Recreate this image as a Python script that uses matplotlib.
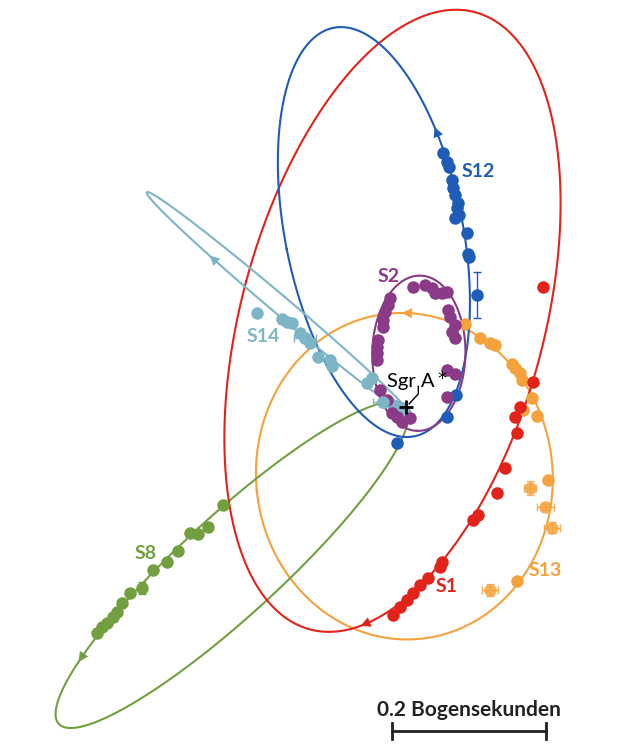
import numpy as np
import matplotlib.pyplot as plt
from matplotlib.patches import FancyArrowPatch

plt.rcParams['font.family'] = ['Lato', 'DejaVu Sans']

# All positions are offsets from Sgr A* in milliarcseconds (x right, y up)

# points
s12_orbit_x = [-90, -116, -138, -160, -165, -155, -112, -69, -30, 9, 40, 70, 79, 74, 27, -36]
s12_orbit_y = [495, 486, 455, 399, 334, 204, 74, -4, -26, -36, -21, 22, 113, 252, 382, 472]
s1_orbit_x = [53, 9, -38, -108, -142, -205, -229, -233, -207, -186, -138, -90, -34, 31, 96, 157, 187, 198, 191, 174, 139, 87]
s1_orbit_y = [512, 499, 473, 386, 334, 182, 74, -82, -199, -242, -280, -293, -286, -216, -121, 9, 122, 269, 377, 442, 486, 510]
s13_orbit_x = [5, 77, 139, 164, 178, 185, 178, 157, 96, 1, -73, -129, -164, -200, -187, -160, -108, -38]
s13_orbit_y = [122, 109, 57, 13, -47, -121, -173, -234, -268, -300, -286, -247, -199, -104, -26, 31, 87, 117]
s2_orbit_x = [31, 60, 70, 73, 64, 44, 18, -1, -27, -39, -42, -34, -14, 8]
s2_orbit_y = [166, 152, 113, 48, 3, -20, -30, -27, -4, 35, 87, 133, 155, 165]
s14_orbit_x = [-326, -303, -285, -205, -138, -38, 5, 16, 8, -25, -138, -212, -251, -281, -316]
s14_orbit_y = [269, 260, 250, 181, 121, 35, -1, -12, -14, 9, 99, 155, 194, 220, 254]
s8_orbit_x = [-456, -450, -441, -421, -402, -363, -329, -281, -238, -181, -129, -51, -8, 12, 21, 5, -21, -69, -155, -186, -316, -385, -433]
s8_orbit_y = [-410, -385, -359, -329, -294, -247, -212, -166, -127, -90, -55, 0, 18, 18, 5, -26, -56, -108, -225, -264, -364, -397, -416]

# measured positions
s12_x = [48, 53, 56, 60, 61, 64, 68, 66, 69, 64, 79, 81, 82, 65, 53, -12]
s12_y = [330, 319, 312, 295, 285, 276, 265, 259, 250, 246, 226, 199, 195, 16, -13, -47]
s12_err_x, s12_err_y, s12_err_dy = [92], [146], [30]

s1_x = [178, 165, 148, 142, 144, 129, 118, 94, 87, 47, 44, 29, 18, 9, 1, -8, -17]
s1_y = [156, 33, 0, -13, -34, -79, -112, -140, -147, -202, -208, -222, -231, -242, -251, -260, -270]

s13_x = [77, 96, 109, 116, 138, 142, 148, 151, 164, 152, 170, 185, 144]
s13_y = [108, 90, 83, 81, 56, 51, 44, 35, 12, -4, -12, -95, -226]
s13_err_x = [161, 181, 190, 109]
s13_err_y = [-105, -130, -157, -238]
s13_err_dx = [8, 11, 10, 10]
s13_err_dy = [9, 4, 7, 8]

s2_x = [9, 25, 34, 38, 47, 55, 57, 64, 60, 64, -21, -23, -27, -30, -30, -36, -38, -38, -38,
        -34, -25, -18, -12, -5, 5, 53, 64, 53]
s2_y = [156, 159, 155, 148, 148, 126, 117, 107, 98, 90, 142, 133, 124, 113, 104, 87, 78, 70, 61,
        22, 9, -8, -13, -20, -14, 48, 43, 13]
s2_err_x, s2_err_y, s2_err_dx = [53], [150], [6]

s14_x = [-194, -161, -155, -148, -138, -131, -125, -114, -99, -96, -51, -44, -30, -17, -5, -1]
s14_y = [122, 114, 111, 109, 96, 90, 83, 65, 61, 53, 31, 38, 7, 3, -1, -8]
s14_err_x, s14_err_y, s14_err_dx = [-131, -30], [90, 7], [14, 13]

s8_x = [-238, -257, -270, -281, -296, -311, -329, -359, -369, -376, -381, -389, -395, -402]
s8_y = [-127, -156, -165, -164, -187, -202, -212, -242, -255, -267, -273, -281, -286, -294]
s8_err_x, s8_err_y, s8_err_dy = [-343], [-235], [8]

BLUE = '#1f5cb8'
RED = '#e2231a'
ORANGE = '#f5a23c'
PURPLE = '#8b3a87'
LIGHTBLUE = '#7db5c6'
GREEN = '#72a040'
DOT = 9


def fit_ellipse(x, y, n=720):
    # direct least squares ellipse fit (Fitzgibbon)
    x = np.asarray(x, float)
    y = np.asarray(y, float)
    D1 = np.column_stack([x * x, x * y, y * y])
    D2 = np.column_stack([x, y, np.ones_like(x)])
    S1 = D1.T @ D1
    S2 = D1.T @ D2
    S3 = D2.T @ D2
    T = -np.linalg.solve(S3, S2.T)
    M = S1 + S2 @ T
    M = np.array([M[2] / 2, -M[1], M[0] / 2])
    w, v = np.linalg.eig(M)
    v = np.real(v)
    cond = 4 * v[0] * v[2] - v[1] ** 2
    a1 = v[:, cond > 0][:, 0]
    a, b, c, d, e, f = np.concatenate([a1, T @ a1])
    Q = np.array([[a, b / 2], [b / 2, c]])
    x0, y0 = np.linalg.solve(2 * Q, [-d, -e])
    F0 = a * x0 ** 2 + b * x0 * y0 + c * y0 ** 2 + d * x0 + e * y0 + f
    lam, vec = np.linalg.eigh(Q)
    axes = np.sqrt(-F0 / lam)
    t = np.linspace(0, 2 * np.pi, n, endpoint=False)
    pts = vec @ (axes[:, None] * np.array([np.cos(t), np.sin(t)]))
    return x0 + pts[0], y0 + pts[1]


def draw_orbit(ax, tx, ty, color, arrow_at=None, heading=None):
    ox, oy = fit_ellipse(tx, ty)
    ax.plot(np.append(ox, ox[0]), np.append(oy, oy[0]), color=color, lw=1.5, zorder=1)
    if arrow_at is not None:
        n = len(ox)
        i = np.argmin(np.hypot(ox - arrow_at[0], oy - arrow_at[1]))
        j, k = (i - 3) % n, (i + 3) % n
        if (ox[k] - ox[j]) * heading[0] + (oy[k] - oy[j]) * heading[1] < 0:
            j, k = k, j
        ax.add_patch(FancyArrowPatch((ox[j], oy[j]), (ox[k], oy[k]),
                                     arrowstyle='-|>,head_length=0.6,head_width=0.3',
                                     mutation_scale=12, color=color, lw=0,
                                     shrinkA=0, shrinkB=0, zorder=2))


def draw_points(ax, x, y, color):
    ax.plot(x, y, 'o', ms=DOT, color=color, mec='none', zorder=3)


fig = plt.figure(figsize=(6.19, 7.51), dpi=100)
ax = fig.add_axes([0, 0, 1, 1])
ax.set_xlim(-527.8, 276.9)
ax.set_ylim(-447.2, 529.1)
ax.axis('off')

draw_orbit(ax, s13_orbit_x, s13_orbit_y, ORANGE, (-1, 122), (-1, 0))
draw_orbit(ax, s8_orbit_x, s8_orbit_y, GREEN, (-421, -329), (-0.5, -1))
draw_orbit(ax, s1_orbit_x, s1_orbit_y, RED, (-51, -286), (-1, 0))
draw_orbit(ax, s12_orbit_x, s12_orbit_y, BLUE, (35, 356), (-0.3, 1))
draw_orbit(ax, s14_orbit_x, s14_orbit_y, LIGHTBLUE, (-251, 194), (-1, 0.8))
draw_orbit(ax, s2_orbit_x, s2_orbit_y, PURPLE)

err_kw = dict(fmt='o', ms=DOT, mec='none', elinewidth=1, capsize=3, capthick=1, zorder=3)
draw_points(ax, s8_x, s8_y, GREEN)
ax.errorbar(s8_err_x, s8_err_y, yerr=s8_err_dy, color=GREEN, **err_kw)
draw_points(ax, s13_x, s13_y, ORANGE)
ax.errorbar(s13_err_x, s13_err_y, xerr=s13_err_dx, yerr=s13_err_dy, color=ORANGE, alpha=0.85, **err_kw)
draw_points(ax, s1_x, s1_y, RED)
draw_points(ax, s12_x, s12_y, BLUE)
ax.errorbar(s12_err_x, s12_err_y, yerr=s12_err_dy, color=BLUE, **err_kw)
draw_points(ax, s14_x, s14_y, LIGHTBLUE)
ax.errorbar(s14_err_x, s14_err_y, xerr=s14_err_dx, color=LIGHTBLUE, **err_kw)
draw_points(ax, s2_x, s2_y, PURPLE)
ax.errorbar(s2_err_x, s2_err_y, xerr=s2_err_dx, color=PURPLE, **err_kw)

# star names
lab_kw = dict(fontsize=14, fontweight='bold', ha='center', va='center', zorder=4)
ax.text(94, 306, 'S12', color=BLUE, **lab_kw)
ax.text(-22, 169, 'S2', color=PURPLE, **lab_kw)
ax.text(-185, 92, 'S14', color=LIGHTBLUE, **lab_kw)
ax.text(-339, -190, 'S8', color=GREEN, **lab_kw)
ax.text(53, -234, 'S1', color=RED, **lab_kw)
ax.text(181, -212, 'S13', color=ORANGE, **lab_kw)

# black hole position
ax.plot(0, 0, '+', ms=10, mew=2, color='black', zorder=5)
ax.plot([16, 16, 4], [27, 17, 4], color='black', lw=1, zorder=5)
ax.text(-25, 26, 'Sgr A', fontsize=14.5, ha='left', va='baseline', zorder=5)
ax.text(41, 37, '*', fontsize=13, family='DejaVu Sans', ha='left', va='center', zorder=5)

# scale bar
ax.plot([-18, 182], [-421, -421], color='#222222', lw=2)
ax.plot([-18, -18], [-411, -431], color='#222222', lw=2)
ax.plot([182, 182], [-411, -431], color='#222222', lw=2)
ax.text(82, -402, '0.2 Bogensekunden', fontsize=15, fontweight='bold',
        color='#222222', ha='center', va='baseline')

fig.savefig('out.png', dpi=100)
